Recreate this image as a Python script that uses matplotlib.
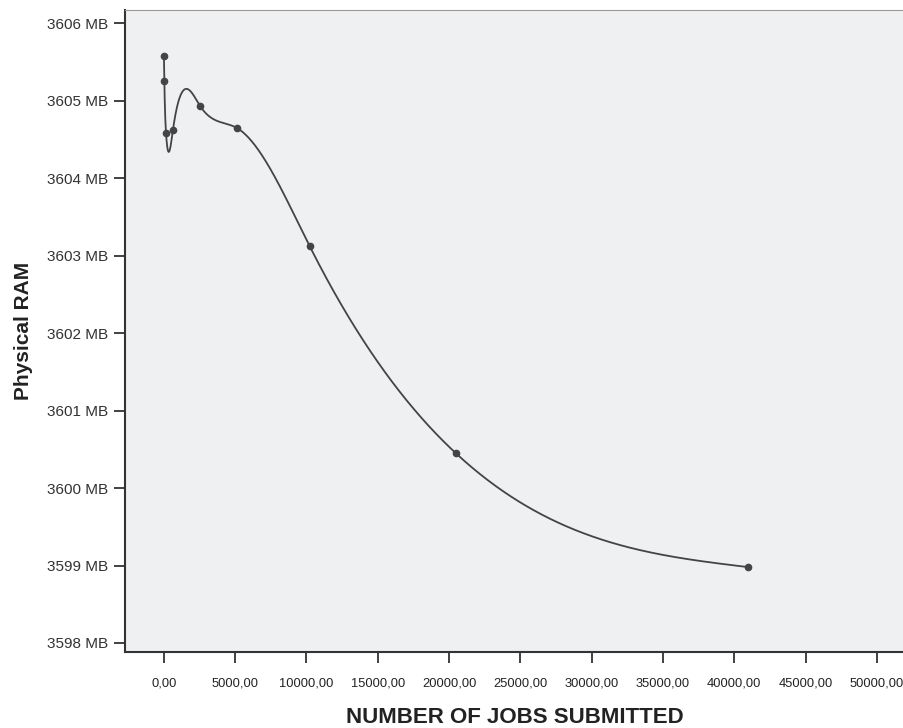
import numpy as np
import matplotlib.pyplot as plt
from matplotlib.ticker import FuncFormatter

# === DATA ===
jobs = [10, 40, 160, 640, 2560, 5120, 10240, 20480, 40960]
ram_mb = [3605.58, 3605.25, 3604.58, 3604.62, 3604.93, 3604.65, 3603.12, 3600.45, 3598.98]
x_ticks = [0, 5000, 10000, 15000, 20000, 25000, 30000, 35000, 40000, 45000, 50000]
y_ticks = [3598, 3599, 3600, 3601, 3602, 3603, 3604, 3605, 3606]


def natural_spline(x, y, xs):
    # natural cubic spline through the points (like the SPSS interpolation line)
    x = np.asarray(x, float)
    y = np.asarray(y, float)
    n = len(x)
    h = np.diff(x)
    A = np.zeros((n, n))
    b = np.zeros(n)
    A[0, 0] = 1
    A[-1, -1] = 1
    for i in range(1, n - 1):
        A[i, i - 1] = h[i - 1]
        A[i, i] = 2 * (h[i - 1] + h[i])
        A[i, i + 1] = h[i]
        b[i] = 3 * ((y[i + 1] - y[i]) / h[i] - (y[i] - y[i - 1]) / h[i - 1])
    c = np.linalg.solve(A, b)
    out = np.empty_like(xs)
    for j, xv in enumerate(xs):
        i = min(max(np.searchsorted(x, xv) - 1, 0), n - 2)
        dx = xv - x[i]
        bi = (y[i + 1] - y[i]) / h[i] - h[i] * (2 * c[i] + c[i + 1]) / 3
        di = (c[i + 1] - c[i]) / (3 * h[i])
        out[j] = y[i] + bi * dx + c[i] * dx ** 2 + di * dx ** 3
    return out


# === MATPLOTLIB CONFIG ===
plt.rcParams.update({
    "font.family": "Liberation Sans",
    "font.size": 10,
})

fig, ax = plt.subplots(figsize=(9.04, 7.28), dpi=100)
fig.subplots_adjust(left=0.138, right=1.0, top=0.986, bottom=0.104)
ax.set_facecolor('#eef0f2')

xs = np.concatenate([np.linspace(jobs[0], jobs[3], 600), np.linspace(jobs[3], jobs[-1], 1500)])
ax.plot(xs, natural_spline(jobs, ram_mb, xs), color='#444444', linewidth=1.3)
ax.plot(jobs, ram_mb, 'o', color='#444444', markersize=4.5)

ax.set_xlim(-2735, 51900)
ax.set_ylim(3597.88, 3606.17)
ax.set_xticks(x_ticks)
ax.set_yticks(y_ticks)
ax.xaxis.set_major_formatter(FuncFormatter(lambda v, p: f"{v:.2f}".replace('.', ',')))
ax.yaxis.set_major_formatter(FuncFormatter(lambda v, p: f"{v:.0f} MB"))

for side in ['left', 'bottom']:
    ax.spines[side].set_color('#333333')
    ax.spines[side].set_linewidth(1.5)
ax.spines['top'].set_color('#999999')
ax.spines['right'].set_visible(False)

ax.tick_params(axis='y', length=8, width=1.3, color='#333333', pad=4, labelsize=11, labelcolor='#333333')
ax.tick_params(axis='x', length=8, width=1.3, color='#333333', pad=10, labelsize=9.3, labelcolor='#222222')

ax.set_ylabel('Physical RAM', fontsize=15, fontweight='bold', color='#222222', labelpad=10)
ax.set_xlabel('NUMBER OF JOBS SUBMITTED', fontsize=16, fontweight='bold', color='#222222', labelpad=13)

fig.savefig('out.png', dpi=100)
